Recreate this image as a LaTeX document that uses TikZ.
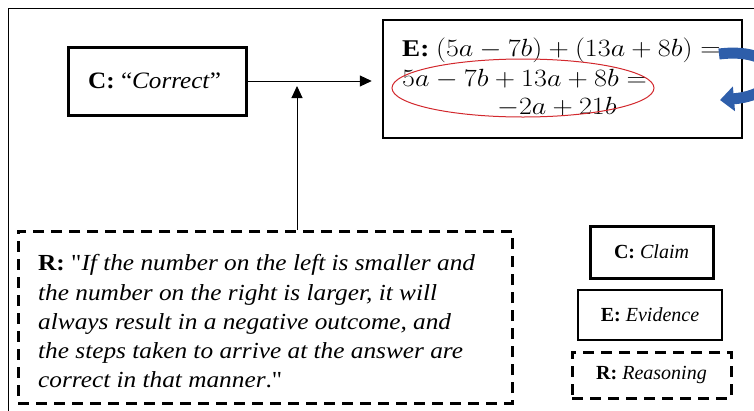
\documentclass[tikz,border=0pt]{standalone}
\usepackage{graphicx}
\usepackage{fontspec}
\setmainfont{Liberation Serif}[Ligatures=TeXOff]
\usetikzlibrary{arrows.meta}
\definecolor{arrowblue}{RGB}{46,94,170}
\definecolor{ellred}{RGB}{210,40,45}
\begin{document}
\begin{tikzpicture}[x=1pt,y=-1pt,
  thickbox/.style={draw, line width=3pt, inner sep=0pt},
  thinbox/.style={draw, line width=1.5pt, inner sep=0pt},
  dashbox/.style={draw, line width=3pt, inner sep=0pt, dash pattern=on 11pt off 7pt},
  conn/.style={line width=1pt, -{Triangle[length=12pt,width=11pt]}},
  bigtxt/.style={font=\fontsize{23.5}{26}\selectfont, inner sep=0pt},
  smalltxt/.style={font=\fontsize{20}{22}\selectfont},
  rtxt/.style={font=\fontsize{23}{29.3}\selectfont, inner sep=0pt},
  mtxt/.style={font=\fontsize{24}{25}\selectfont, inner sep=0pt}]
\useasboundingbox (0,0) rectangle (754,410);
% outer frame
\draw[line width=1pt] (8,412) -- (8,8) -- (760,8);
% boxes
\node[thickbox, minimum width=178pt, minimum height=68pt] (c) at (157,81) {};
\node[bigtxt, anchor=base west] (ct) at (88,88) {\scalebox{1.07}[1]{\textbf{C:} “\textit{Correct}”}};
\node[thickbox, line width=2.5pt, minimum width=359pt, minimum height=118pt] (e) at (562.5,79) {};
\node[dashbox, minimum width=494pt, minimum height=172pt] (r) at (265,317) {};
\node[rtxt, anchor=north west] (rt) at (38,250) {\scalebox{1.1}[1]{\begin{tabular}{@{}l@{}}\textbf{R:} "\textit{If the number on the left is smaller and}\\
\textit{the number on the right is larger, it will}\\
\textit{always result in a negative outcome, and}\\
\textit{the steps taken to arrive at the answer are}\\
\textit{correct in that manner}."\end{tabular}}};
% E text
\node[mtxt, anchor=base west] (e1) at (402,56) {\scalebox{1.13}[1]{\textbf{E:} $(5a-7b)+(13a+8b)=$}};
\node[mtxt, anchor=base west] (e2) at (402,86) {\scalebox{1.13}[1]{$5a-7b+13a+8b=$}};
\node[mtxt, anchor=base west] (e3) at (497,114) {\scalebox{1.13}[1]{$-2a+21b$}};
\draw[ellred, line width=1pt] (523,88) ellipse [x radius=131pt, y radius=29pt];
% blue curved arrow
\coordinate (bs) at (719,54);
\coordinate (be) at (720,100);
\draw[arrowblue, line width=11pt, -{Triangle[length=14pt,width=24pt]}] (bs) .. controls (785,46) and (790,94) .. (be);
% legend
\node[thickbox, minimum width=123pt, minimum height=52pt, smalltxt] (lc) at (651.5,252) {\textbf{C:} \textit{Claim}};
\node[thinbox, minimum width=144pt, minimum height=50pt, smalltxt] (le) at (650,315) {\textbf{E:} \textit{Evidence}};
\node[dashbox, minimum width=159pt, minimum height=46pt, smalltxt] (lr) at (651.5,375) {\textbf{R:} \textit{Reasoning}};
% connectors
\coordinate (tip) at (297,86);
\draw[conn, shorten >=10pt] (c.east) -- (e.west |- c.east);
\draw[conn] (r.north -| tip) -- (tip);
\end{tikzpicture}
\end{document}
